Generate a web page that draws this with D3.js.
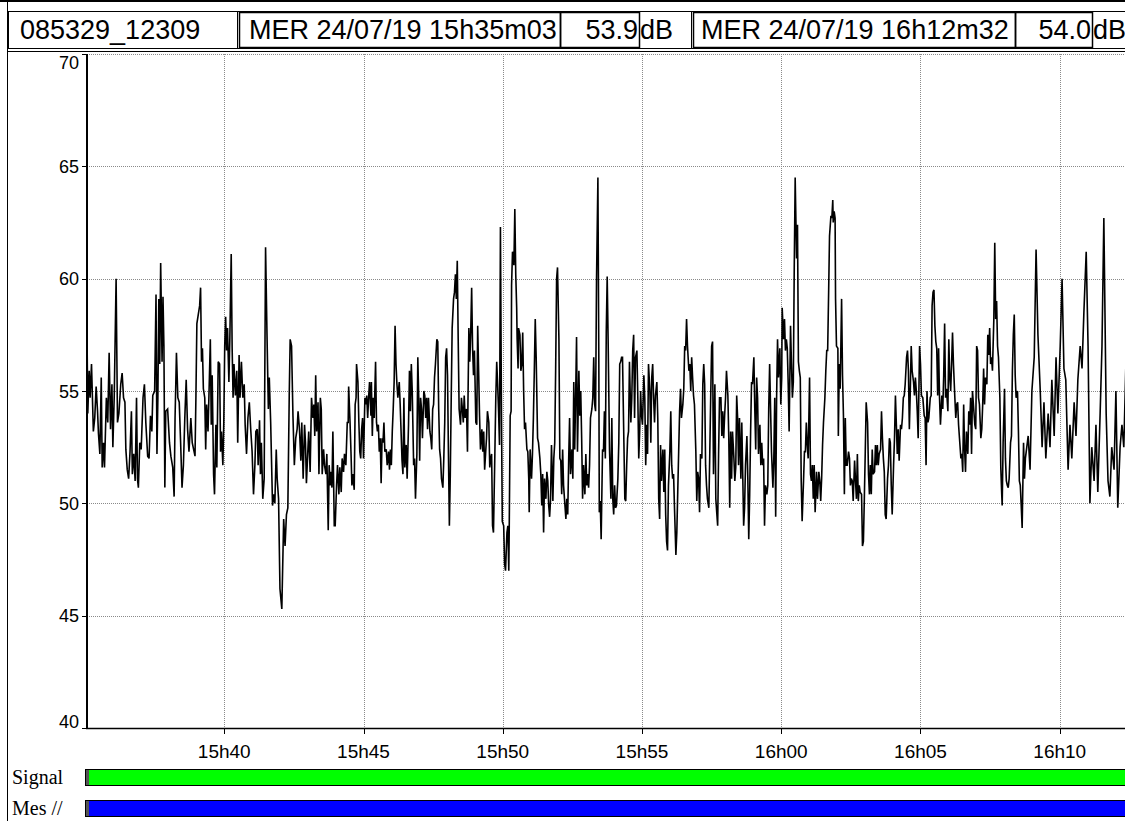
<!DOCTYPE html>
<html>
<head>
<meta charset="utf-8">
<script src="https://cdn.jsdelivr.net/npm/d3@7"></script>
<style>
  html, body { margin: 0; padding: 0; background: #fff; }
  svg { display: block; }
</style>
</head>
<body>
<svg id="chart" width="1125" height="821"></svg>
<script>
// ---- Recording ----
const recordId = "085329_12309";
const startTime = new Date(2019, 6, 24, 15, 35, 3);
const endTime = new Date(2019, 6, 24, 16, 12, 32);
const dayNames = ["DIM", "LUN", "MAR", "MER", "JEU", "VEN", "SAM"];
const unitLabel = "dB";

// MER readings: [seconds since start, dB]
const merReadings = [
  [0,53.9],[1,58.2],[3,54.0],[6,55.9],[8,54.7],[11,56.2],[15,53.2],[18,53.8],[21,55.2],[24,54.1],
  [26,53.1],[29,52.2],[32,55.6],[34,51.6],[37,52.7],[39,51.6],[43,54.7],[46,53.6],[49,56.7],[52,53.3],
  [55,55.3],[57,52.5],[60,54.8],[64,60.0],[67,53.6],[70,54.0],[74,55.3],[77,55.8],[80,54.7],[83,54.5],
  [85,52.4],[88,51.5],[91,51.1],[94,52.3],[97,54.1],[99,51.3],[102,52.2],[105,51.0],[108,54.7],[110,51.1],
  [112,50.7],[115,52.7],[118,52.4],[122,54.7],[125,55.3],[128,53.6],[132,52.1],[135,52.0],[138,53.9],[141,53.2],
  [143,54.8],[147,55.0],[150,59.3],[152,52.2],[154,54.7],[156,59.1],[158,56.2],[160,60.7],[163,56.3],[165,59.2],
  [167,57.0],[169,50.7],[171,54.1],[175,54.2],[179,52.7],[182,52.1],[186,51.6],[189,50.3],[191,53.8],[194,56.7],
  [197,54.7],[200,54.5],[203,52.7],[206,50.7],[209,51.7],[212,53.8],[215,55.5],[218,53.3],[221,52.3],[225,53.8],
  [228,52.7],[234,52.1],[236,54.8],[238,58.0],[241,58.4],[244,58.8],[246,59.6],[248,56.3],[250,56.9],[252,55.1],
  [255,54.7],[257,52.4],[259,54.4],[262,53.2],[265,55.6],[267,57.3],[269,53.5],[271,55.7],[274,51.3],[276,50.4],
  [279,53.5],[281,51.6],[284,56.3],[287,56.2],[289,52.3],[291,53.2],[294,51.7],[296,53.6],[298,57.0],[300,58.3],
  [302,56.8],[304,57.8],[307,55.4],[309,57.3],[312,61.1],[314,56.9],[316,54.7],[318,56.2],[321,54.8],[324,55.9],
  [326,52.7],[329,56.6],[331,54.7],[334,56.3],[337,54.7],[340,55.3],[342,53.5],[345,52.2],[348,53.8],[351,54.5],
  [354,53.3],[357,52.3],[360,50.4],[363,51.7],[365,53.2],[368,53.3],[370,51.7],[373,53.7],[375,51.3],[377,52.7],
  [380,50.2],[383,51.1],[386,61.4],[389,57.6],[392,54.2],[394,55.6],[397,53.6],[401,49.9],[403,50.4],[406,50.0],
  [409,52.4],[411,51.1],[414,50.2],[417,46.2],[421,45.3],[425,49.3],[428,48.1],[431,49.5],[434,49.8],[437,54.8],
  [439,57.3],[442,57.0],[445,53.9],[448,51.7],[451,52.9],[454,53.3],[456,54.1],[459,53.3],[462,51.9],[464,53.6],
  [467,51.1],[470,53.5],[472,52.7],[474,50.9],[477,52.3],[479,53.2],[482,51.4],[485,54.7],[488,53.8],[490,54.4],
  [492,53.0],[494,55.7],[496,53.2],[499,54.5],[501,51.3],[504,54.7],[506,54.2],[508,51.3],[511,52.4],[513,51.7],
  [516,51.3],[518,52.2],[521,48.8],[523,51.7],[525,50.8],[527,51.4],[529,50.7],[531,53.2],[534,49.0],[536,49.0],
  [539,50.8],[541,51.7],[544,50.4],[546,51.6],[549,50.5],[551,52.0],[554,51.4],[556,52.2],[559,51.7],[562,53.6],
  [564,53.6],[565,55.2],[568,53.6],[570,52.3],[572,50.8],[574,51.3],[577,50.6],[579,54.4],[581,54.7],[582,56.2],
  [585,55.4],[587,53.6],[589,52.3],[591,52.0],[593,53.3],[595,53.8],[597,52.0],[600,54.7],[602,54.4],[604,54.8],
  [606,53.8],[608,54.7],[610,55.4],[613,53.9],[614,55.4],[616,53.0],[618,54.7],[620,53.8],[623,56.3],[625,53.6],
  [627,53.2],[629,53.5],[631,52.3],[633,52.9],[635,50.9],[637,52.9],[639,52.7],[641,53.6],[643,52.3],[646,52.4],
  [648,51.7],[651,52.3],[653,51.5],[655,52.4],[657,51.7],[659,53.2],[661,54.2],[663,55.4],[665,57.9],[667,56.2],
  [669,55.3],[671,54.7],[674,55.4],[676,54.4],[680,51.9],[682,51.3],[684,54.7],[686,51.6],[689,52.6],[691,51.1],
  [694,53.5],[696,55.9],[698,54.1],[700,56.2],[702,55.0],[705,51.7],[707,52.0],[709,50.2],[712,52.2],[714,56.5],
  [716,54.7],[718,51.9],[720,54.7],[722,54.2],[724,52.9],[727,55.0],[729,54.8],[731,53.8],[733,54.7],[735,53.3],
  [737,54.7],[740,53.2],[742,52.9],[744,52.4],[746,54.2],[748,54.4],[750,55.6],[752,56.2],[755,57.3],[757,57.2],
  [759,54.2],[761,52.4],[763,52.0],[765,51.1],[768,50.7],[770,52.0],[772,53.6],[774,56.5],[776,56.9],[778,55.7],
  [780,52.2],[782,49.0],[784,51.3],[786,54.7],[788,57.8],[791,59.1],[793,59.4],[795,60.2],[797,59.1],[799,60.8],
  [801,57.3],[803,54.2],[806,53.5],[808,54.7],[810,54.2],[812,53.6],[814,54.8],[816,53.8],[819,54.2],[821,52.3],
  [822,54.4],[824,57.8],[826,56.3],[828,57.6],[830,59.6],[832,56.9],[834,55.7],[836,56.8],[839,53.6],[841,53.5],
  [843,57.9],[845,55.9],[847,53.9],[849,52.4],[852,53.3],[854,52.3],[856,53.2],[858,51.5],[860,52.2],[862,52.9],
  [864,54.1],[867,53.6],[869,51.6],[871,52.0],[873,52.2],[875,49.0],[877,48.7],[880,52.2],[882,54.7],[884,56.3],
  [886,55.3],[888,54.1],[890,52.6],[892,62.3],[894,54.7],[896,49.2],[899,49.0],[901,47.3],[903,47.0],[906,48.7],
  [908,49.0],[910,47.0],[911,49.0],[913,53.9],[915,54.1],[916,59.7],[918,61.2],[921,60.6],[923,63.1],[925,60.2],
  [927,58.7],[928,57.3],[930,56.0],[931,57.8],[934,57.5],[936,55.9],[938,56.2],[940,57.6],[942,55.0],[944,53.3],
  [946,53.6],[949,52.4],[951,52.3],[953,51.1],[954,49.6],[956,52.4],[959,51.1],[961,52.2],[963,53.8],[965,55.9],
  [967,58.2],[969,56.5],[972,52.9],[974,52.7],[977,52.0],[979,51.3],[981,49.9],[983,51.3],[985,48.7],[987,51.1],
  [990,50.2],[992,51.4],[994,51.0],[996,49.9],[998,49.4],[1000,50.2],[1002,52.6],[1005,50.1],[1007,52.0],[1009,52.7],
  [1011,56.0],[1013,60.0],[1015,60.5],[1018,57.3],[1020,52.0],[1022,51.9],[1024,50.4],[1026,52.4],[1028,50.8],[1030,50.2],
  [1033,49.3],[1035,50.2],[1037,49.5],[1039,51.9],[1041,53.8],[1043,51.3],[1046,52.4],[1048,51.1],[1050,55.4],[1052,52.4],
  [1054,54.7],[1056,57.4],[1058,52.3],[1061,55.9],[1063,53.9],[1065,55.0],[1067,52.9],[1069,50.2],[1071,51.7],[1074,50.4],
  [1076,52.2],[1078,50.8],[1080,51.3],[1082,50.7],[1084,51.7],[1086,53.8],[1089,54.2],[1091,54.7],[1093,56.5],[1095,54.4],
  [1097,54.1],[1099,59.9],[1102,64.5],[1104,56.2],[1105,49.6],[1107,50.1],[1109,48.4],[1112,52.4],[1114,52.3],[1116,54.1],
  [1118,52.0],[1120,57.6],[1122,60.1],[1124,57.3],[1127,52.4],[1130,50.2],[1132,53.8],[1134,50.2],[1136,49.5],[1138,50.8],
  [1140,49.8],[1142,49.9],[1145,51.1],[1147,52.7],[1149,56.2],[1151,56.3],[1153,56.5],[1155,56.5],[1158,52.7],[1160,50.2],
  [1162,50.1],[1164,51.7],[1166,52.9],[1168,53.2],[1170,56.3],[1173,53.6],[1175,54.7],[1177,56.8],[1179,57.5],[1181,53.8],
  [1183,56.5],[1186,56.8],[1188,54.7],[1190,52.0],[1192,53.2],[1194,55.0],[1196,53.9],[1198,53.5],[1201,55.7],[1203,54.7],
  [1205,51.7],[1207,53.5],[1209,52.2],[1211,56.2],[1214,55.0],[1216,52.7],[1218,55.6],[1220,56.2],[1222,54.7],[1224,53.6],
  [1226,54.8],[1229,55.4],[1231,53.8],[1233,50.2],[1235,49.3],[1237,52.6],[1239,51.0],[1242,52.4],[1244,50.5],[1246,52.4],
  [1248,49.5],[1250,48.3],[1252,47.9],[1254,50.8],[1257,52.3],[1259,54.1],[1261,51.7],[1263,51.1],[1265,51.3],[1267,49.8],
  [1270,47.7],[1272,48.7],[1274,50.5],[1276,52.3],[1278,54.1],[1280,55.1],[1282,53.8],[1285,54.4],[1287,55.1],[1289,57.0],
  [1291,56.8],[1293,58.2],[1295,57.0],[1298,55.9],[1300,56.2],[1302,55.0],[1304,56.5],[1306,55.6],[1308,54.8],[1310,54.4],
  [1313,52.3],[1315,50.1],[1317,51.4],[1319,51.1],[1321,49.6],[1323,52.2],[1326,52.0],[1328,55.3],[1330,56.2],[1332,55.3],
  [1334,51.7],[1336,50.8],[1338,50.2],[1341,49.8],[1343,52.2],[1345,54.7],[1347,57.0],[1349,57.2],[1351,51.3],[1354,55.3],
  [1356,50.2],[1358,49.6],[1360,49.0],[1362,52.2],[1364,54.7],[1367,54.7],[1369,53.0],[1371,54.1],[1373,52.9],[1375,53.9],
  [1377,54.7],[1379,55.9],[1382,54.8],[1384,52.9],[1386,49.8],[1388,53.2],[1390,51.1],[1392,53.2],[1395,52.0],[1397,51.0],
  [1399,51.6],[1401,54.8],[1403,53.8],[1405,51.7],[1407,53.8],[1410,51.1],[1412,53.6],[1414,51.3],[1416,49.0],[1418,49.8],
  [1420,51.7],[1423,53.0],[1425,51.1],[1427,48.4],[1429,50.4],[1431,53.2],[1433,55.4],[1435,55.3],[1438,56.5],[1440,54.2],
  [1442,52.4],[1444,55.6],[1446,54.7],[1448,52.2],[1451,53.5],[1453,51.7],[1455,52.7],[1457,51.7],[1459,52.0],[1461,49.0],
  [1463,50.8],[1466,50.4],[1468,50.8],[1470,54.2],[1472,56.2],[1474,54.2],[1476,52.3],[1479,50.7],[1481,52.0],[1483,54.7],
  [1485,49.4],[1487,54.7],[1489,57.3],[1491,55.6],[1494,56.9],[1496,54.4],[1498,55.6],[1499,58.7],[1502,57.3],[1504,58.2],
  [1506,56.8],[1508,57.3],[1510,56.9],[1512,55.3],[1514,53.2],[1517,57.9],[1519,56.2],[1521,54.7],[1523,55.4],[1525,60.5],
  [1527,64.5],[1530,60.9],[1532,62.4],[1534,56.3],[1536,55.9],[1538,55.6],[1540,51.0],[1542,49.2],[1545,51.0],[1547,52.3],
  [1549,52.3],[1551,53.6],[1553,52.6],[1555,52.0],[1558,55.6],[1560,51.3],[1562,51.0],[1564,51.7],[1566,50.2],[1568,51.7],
  [1570,49.6],[1573,51.4],[1575,50.2],[1578,51.4],[1580,51.0],[1582,50.1],[1584,51.1],[1586,52.6],[1588,53.6],[1591,54.7],
  [1593,55.9],[1595,56.8],[1597,56.8],[1599,59.3],[1601,61.9],[1604,62.8],[1606,62.7],[1608,63.5],[1609,62.5],[1611,63.0],
  [1613,62.7],[1614,59.1],[1616,57.0],[1619,56.9],[1620,53.0],[1622,56.2],[1624,55.1],[1627,59.1],[1629,55.7],[1631,53.9],
  [1633,50.4],[1635,53.8],[1637,51.7],[1639,51.7],[1642,52.3],[1644,52.0],[1646,50.8],[1648,51.1],[1650,51.0],[1652,50.1],
  [1655,51.9],[1657,51.0],[1659,50.2],[1661,52.2],[1663,50.1],[1665,50.8],[1667,50.5],[1670,50.4],[1672,48.1],[1674,48.3],
  [1676,50.2],[1678,52.3],[1680,54.5],[1683,53.6],[1685,51.3],[1687,50.4],[1689,51.7],[1691,50.4],[1693,52.4],[1695,51.3],
  [1698,51.4],[1700,52.6],[1702,51.7],[1704,52.6],[1706,51.7],[1708,52.2],[1711,52.4],[1713,54.1],[1715,52.9],[1717,52.0],
  [1719,51.4],[1721,49.5],[1723,49.3],[1726,51.1],[1728,51.7],[1730,52.9],[1732,52.7],[1734,50.8],[1736,49.5],[1739,51.7],
  [1741,52.9],[1743,54.8],[1745,53.5],[1747,52.2],[1749,53.3],[1751,51.9],[1754,53.5],[1756,53.3],[1758,53.8],[1760,54.7],
  [1762,54.8],[1764,55.3],[1767,56.5],[1769,56.8],[1771,55.9],[1773,53.3],[1775,55.0],[1777,57.0],[1779,55.9],[1782,55.4],
  [1784,54.8],[1786,55.6],[1788,55.0],[1790,54.1],[1792,52.9],[1795,57.0],[1797,56.2],[1799,54.8],[1802,54.7],[1805,53.9],
  [1807,53.8],[1809,51.7],[1811,55.0],[1813,53.6],[1815,53.8],[1818,54.7],[1820,54.8],[1822,58.8],[1824,59.4],[1826,59.5],
  [1828,57.9],[1830,57.2],[1832,56.9],[1834,54.8],[1836,56.9],[1838,54.7],[1840,53.5],[1843,54.8],[1845,54.2],[1847,55.7],
  [1849,58.0],[1851,54.7],[1853,55.1],[1856,54.1],[1858,57.3],[1860,55.6],[1862,55.0],[1864,56.2],[1866,57.6],[1868,56.2],
  [1871,54.7],[1873,53.8],[1875,54.4],[1877,54.5],[1879,53.5],[1881,52.9],[1884,52.0],[1886,52.2],[1888,51.4],[1890,54.4],
  [1892,52.4],[1894,51.4],[1896,53.2],[1899,52.2],[1901,54.1],[1903,53.5],[1905,54.7],[1907,52.2],[1909,55.0],[1912,54.1],
  [1914,53.5],[1916,53.3],[1918,57.0],[1920,56.8],[1922,54.7],[1924,54.4],[1927,52.9],[1929,53.3],[1931,54.4],[1933,56.0],
  [1935,54.4],[1937,55.6],[1940,55.3],[1942,57.5],[1944,56.6],[1946,57.8],[1948,56.2],[1950,56.5],[1952,55.9],[1955,58.2],
  [1957,61.6],[1959,58.2],[1961,59.0],[1963,57.0],[1965,56.5],[1968,54.7],[1970,51.6],[1972,50.4],[1973,49.9],[1975,52.7],
  [1978,55.1],[1980,52.0],[1982,51.0],[1984,50.8],[1986,50.7],[1988,51.1],[1991,52.7],[1993,53.0],[1995,55.9],[1997,57.5],
  [1999,58.4],[2001,55.7],[2003,54.7],[2006,55.0],[2008,53.2],[2010,51.0],[2012,50.8],[2014,49.9],[2016,48.9],[2019,52.7],
  [2021,51.1],[2023,52.0],[2029,53.0],[2033,51.5],[2037,55.0],[2042,56.5],[2046,61.3],[2050,57.5],[2055,55.0],[2059,52.5],
  [2063,54.5],[2067,52.0],[2072,54.0],[2076,52.5],[2080,55.5],[2085,53.0],[2089,56.5],[2093,54.0],[2098,57.0],[2102,60.0],
  [2106,56.0],[2110,55.5],[2115,51.5],[2119,53.5],[2123,52.0],[2128,54.5],[2132,53.0],[2136,55.5],[2141,57.0],[2145,56.0],
  [2149,58.5],[2154,61.2],[2158,57.0],[2162,50.0],[2166,52.5],[2171,51.0],[2175,53.5],[2179,50.5],[2184,54.0],[2188,57.0],
  [2192,62.7],[2197,54.0],[2201,51.0],[2205,50.3],[2209,52.5],[2214,51.5],[2218,55.0],[2222,49.8],[2227,52.5],[2231,53.5],
  [2235,52.5],[2240,56.6],[2249,54.0]
];

const yTickValues = [40, 45, 50, 55, 60, 65, 70];
const statusLabels = ["Signal", "Mes //"];

// ---- Drawing ----
const W = 1125, H = 821;
const SANS = "'Liberation Sans', Arial, sans-serif";
const SERIF = "'Liberation Serif', 'Times New Roman', serif";
const svg = d3.select("#chart");

const plot = { left: 87, right: 1130.3, top: 54, bottom: 728 };
const toDate = s => new Date(+startTime + s * 1000);

const x = d3.scaleTime().domain([startTime, endTime]).range([86.4, plot.right]);
const y = d3.scaleLinear().domain([40, 70]).range([plot.bottom, plot.top]);

// outer frame
svg.append("line").attr("x1", 0).attr("x2", W).attr("y1", 1).attr("y2", 1)
  .attr("stroke", "#000").attr("stroke-width", 2);
svg.append("line").attr("x1", 7.5).attr("x2", 7.5).attr("y1", 0).attr("y2", H)
  .attr("stroke", "#000").attr("stroke-width", 1);

// header cells
const hdr = svg.append("g");
function cell(x0, x1, y0, y1, sw) {
  hdr.append("rect").attr("x", x0).attr("y", y0)
    .attr("width", x1 - x0).attr("height", y1 - y0)
    .attr("fill", "none").attr("stroke", "#000").attr("stroke-width", sw);
}
cell(8.5, 237.5, 11.5, 48.5, 1);
cell(237.5, 691.5, 11.5, 48.5, 1);
cell(239.5, 560.5, 12.5, 47.5, 1.5);
cell(560.5, 639.5, 12.5, 47.5, 1.5);
cell(691.5, 1140, 11.5, 48.5, 1);
cell(693.5, 1015.5, 12.5, 47.5, 1.5);
cell(1015.5, 1092.5, 12.5, 47.5, 1.5);

const fmtStamp = d => dayNames[d.getDay()] + " " + d3.timeFormat("%d/%m/%y %Hh%Mm%S")(d);
const first = merReadings[0], last = merReadings[merReadings.length - 1];
const hText = (tx, str, anchor) => hdr.append("text").attr("x", tx).attr("y", 39)
  .attr("font-family", SANS).attr("font-size", 27).attr("fill", "#000")
  .attr("text-anchor", anchor || "start").text(str);
hText(20, recordId);
hText(249, fmtStamp(toDate(first[0])));
hText(638, first[1].toFixed(1), "end");
hText(640, unitLabel);
hText(701, fmtStamp(toDate(last[0])));
hText(1091, last[1].toFixed(1), "end");
hText(1093, unitLabel);

svg.append("line").attr("x1", 7.5).attr("x2", W).attr("y1", 51.5).attr("y2", 51.5)
  .attr("stroke", "#000").attr("stroke-width", 1);

// grid
const grid = svg.append("g").attr("stroke", "#8a8a8a").attr("stroke-width", 1)
  .attr("stroke-dasharray", "1,1").attr("shape-rendering", "crispEdges");
const timeTicks = x.ticks(d3.timeMinute.every(5));
grid.selectAll(".gv").data(timeTicks).join("line")
  .attr("x1", d => Math.round(x(d)) + 0.5).attr("x2", d => Math.round(x(d)) + 0.5)
  .attr("y1", plot.top).attr("y2", plot.bottom);
grid.selectAll(".gh").data(yTickValues.filter(v => v > 40)).join("line")
  .attr("x1", plot.left).attr("x2", W)
  .attr("y1", d => Math.round(y(d)) + 0.5).attr("y2", d => Math.round(y(d)) + 0.5);

// MER trace
svg.append("clipPath").attr("id", "plotClip").append("rect")
  .attr("x", plot.left).attr("y", plot.top - 2)
  .attr("width", plot.right - plot.left).attr("height", plot.bottom - plot.top + 2);
const line = d3.line().x(d => x(toDate(d[0]))).y(d => y(d[1]));
svg.append("path").datum(merReadings)
  .attr("clip-path", "url(#plotClip)")
  .attr("fill", "none").attr("stroke", "#000").attr("stroke-width", 1.6)
  .attr("stroke-linejoin", "miter").attr("stroke-miterlimit", 3)
  .attr("d", line);

// y axis
svg.append("line").attr("x1", 87).attr("x2", 87).attr("y1", plot.top).attr("y2", plot.bottom + 1)
  .attr("stroke", "#000").attr("stroke-width", 2);
const yAx = svg.append("g");
yAx.selectAll("line").data(yTickValues).join("line")
  .attr("x1", 82).attr("x2", 87)
  .attr("y1", d => Math.round(y(d)) + 0.5).attr("y2", d => Math.round(y(d)) + 0.5)
  .attr("stroke", "#000").attr("stroke-width", 1);
yAx.selectAll("text").data(yTickValues).join("text")
  .attr("x", 79)
  .attr("y", d => Math.min(Math.max(y(d) + 6.5, plot.top + 15), plot.bottom))
  .attr("text-anchor", "end").attr("font-family", SANS).attr("font-size", 18)
  .attr("fill", "#000").text(d => d);

// x axis
svg.append("line").attr("x1", 86).attr("x2", W).attr("y1", plot.bottom + 0.5).attr("y2", plot.bottom + 0.5)
  .attr("stroke", "#000").attr("stroke-width", 1.5);
const xAx = svg.append("g");
xAx.selectAll("line").data(timeTicks).join("line")
  .attr("x1", d => Math.round(x(d)) + 0.5).attr("x2", d => Math.round(x(d)) + 0.5)
  .attr("y1", plot.bottom).attr("y2", plot.bottom + 6)
  .attr("stroke", "#000").attr("stroke-width", 1);
xAx.selectAll("text").data(timeTicks).join("text")
  .attr("x", d => x(d)).attr("y", 758)
  .attr("text-anchor", "middle").attr("font-family", SANS).attr("font-size", 19)
  .attr("fill", "#000").text(d3.timeFormat("%Hh%M"));

// status bars
const barY = [769.5, 800.5];
const barFill = ["#00ff00", "#0000ff"];
statusLabels.forEach((lab, i) => {
  svg.append("text").attr("x", 12).attr("y", barY[i] + 14)
    .attr("font-family", SERIF).attr("font-size", 20).attr("fill", "#000").text(lab);
  svg.append("rect").attr("x", 85.5).attr("y", barY[i]).attr("width", W + 10 - 85.5).attr("height", 16)
    .attr("fill", barFill[i]).attr("stroke", "#000").attr("stroke-width", 1);
  svg.append("rect").attr("x", 86).attr("y", barY[i] + 0.5).attr("width", 3).attr("height", 15)
    .attr("fill", "#555");
});
</script>
</body>
</html>
